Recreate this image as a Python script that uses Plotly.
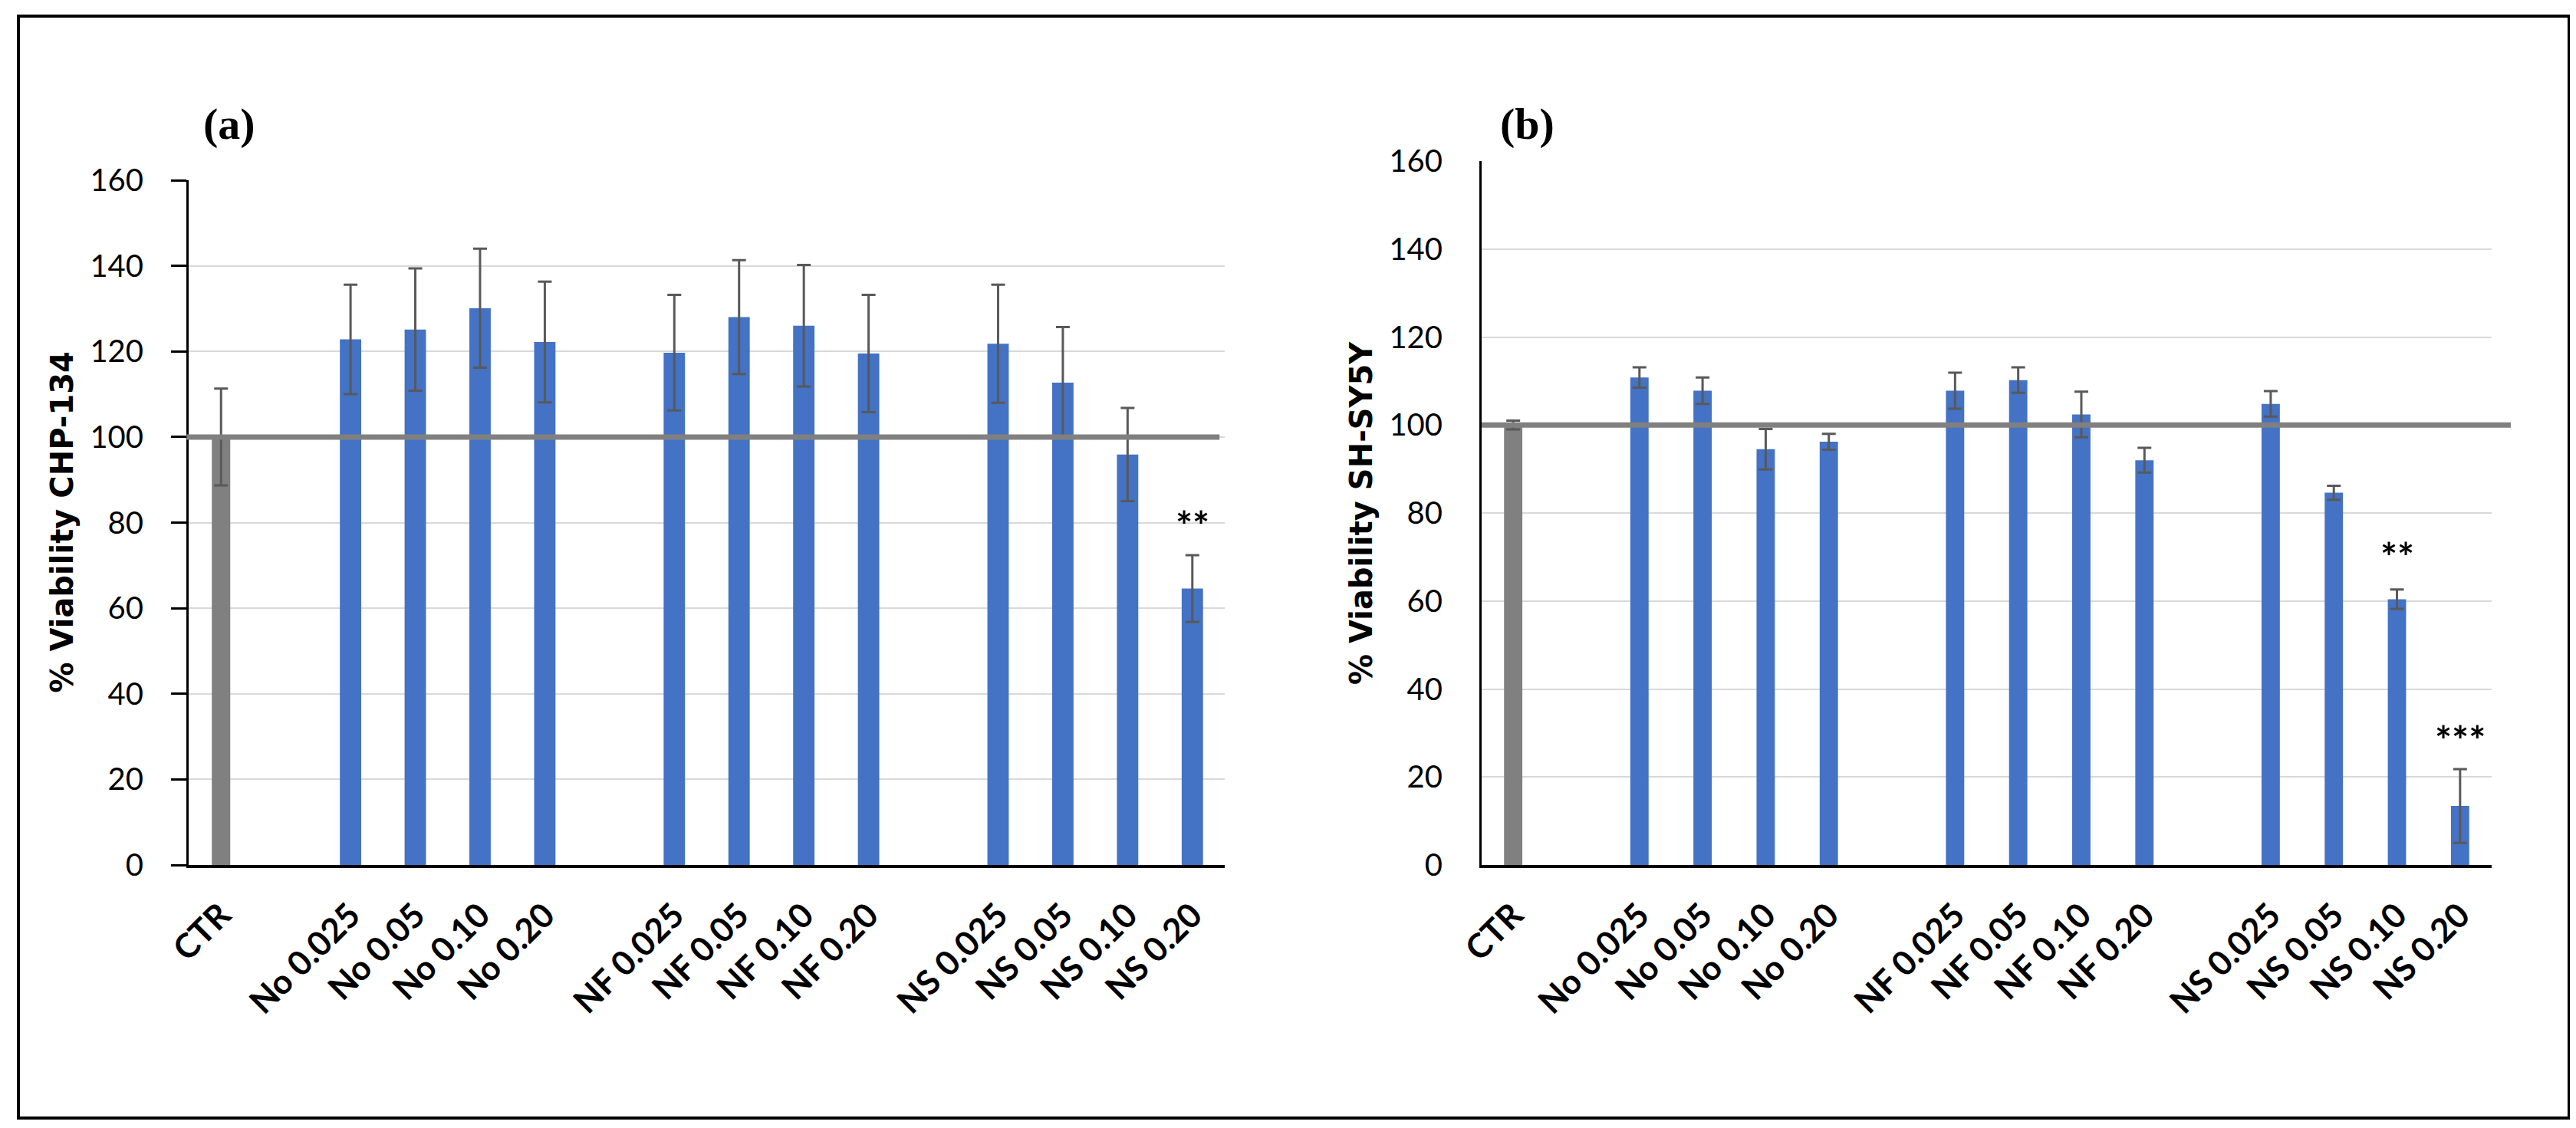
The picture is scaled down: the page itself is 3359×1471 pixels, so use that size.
import plotly.graph_objects as go

# ---------------- data ----------------
groups = ["No", "NF", "NS"]
concs = ["0.025", "0.05", "0.10", "0.20"]
categories = ["CTR"] + [f"{g} {c}" for g in groups for c in concs]

a_vals = [100.0, 122.8, 125.1, 130.1, 122.2, 119.7, 128.0, 126.0, 119.5, 121.8, 112.7, 95.9, 64.6]
a_err = [11.3, 12.8, 14.3, 13.9, 14.1, 13.5, 13.3, 14.2, 13.7, 13.8, 13.0, 10.9, 7.8]

b_vals = [100.0, 110.8, 107.8, 94.5, 96.2, 107.8, 110.2, 102.4, 92.0, 104.8, 84.6, 60.4, 13.4]
b_err = [1.0, 2.3, 3.0, 4.6, 1.8, 4.1, 2.9, 5.2, 2.8, 2.9, 1.6, 2.2, 8.4]

a_stars = {"NS 0.20": (79.0, "**")}
b_stars = {"NS 0.10": (69.7, "**"), "NS 0.20": (28.0, "***")}

y_ticks = [0, 20, 40, 60, 80, 100, 120, 140, 160]
reference_level = 100

# ---------------- layout helpers ----------------
# slots: CTR, gap, 4 x No, gap, 4 x NF, gap, 4 x NS
positions = [0] + [2 + 5 * gi + ci for gi in range(len(groups)) for ci in range(len(concs))]
n_slots = 16

BLUE = "#4472C4"
GREY = "#808080"
ERR = "#595959"
colors = [GREY] + [BLUE] * (len(categories) - 1)

W, H = 3359, 1471


def px_x(p):
    return p / W


def px_y(p):
    return (H - p) / H


fig = go.Figure()
fig.add_trace(go.Bar(
    x=positions, y=a_vals, xaxis="x", yaxis="y",
    marker=dict(color=colors, line=dict(width=0)),
    width=[0.285] + [0.33] * (len(categories) - 1),
    error_y=dict(type="data", array=a_err, visible=True, color=ERR, thickness=3, width=9),
    hoverinfo="skip",
))
fig.add_trace(go.Bar(
    x=positions, y=b_vals, xaxis="x2", yaxis="y2",
    marker=dict(color=colors, line=dict(width=0)),
    width=[0.29] * len(categories),
    error_y=dict(type="data", array=b_err, visible=True, color=ERR, thickness=3, width=9),
    hoverinfo="skip",
))

a_xdom = [px_x(238), px_x(1589)]
b_xdom = [px_x(1924), px_x(3241)]
a_ydom = [px_y(1120), px_y(227)]
b_ydom = [px_y(1120), px_y(202)]

xcommon = dict(
    range=[-0.5, n_slots - 0.5], tickvals=positions, ticktext=categories,
    tickangle=-45, tickfont=dict(family="Lato", size=44, color="black", weight="bold"),
    ticklabelstandoff=18,
    showline=True, linecolor="black", linewidth=4, ticks="", showgrid=False,
    zeroline=False, fixedrange=True, automargin=False,
)
ycommon = dict(
    range=[0, 160], tickvals=y_ticks, showgrid=True, gridcolor="#d9d9d9", gridwidth=2,
    showline=True, linecolor="black", linewidth=3, zeroline=False,
    tickfont=dict(family="Lato", size=40, color="black"), fixedrange=True, automargin=False,
)

fig.update_layout(
    width=W, height=H, margin=dict(l=0, r=0, t=0, b=0, pad=0, autoexpand=False),
    paper_bgcolor="white", plot_bgcolor="white", showlegend=False,
    xaxis=dict(domain=a_xdom, anchor="y", **xcommon),
    yaxis=dict(domain=a_ydom, anchor="x", ticks="outside", ticklen=20, tickwidth=3,
               tickcolor="black", ticklabelstandoff=28, **ycommon),
    xaxis2=dict(domain=b_xdom, anchor="y2", **xcommon),
    yaxis2=dict(domain=b_ydom, anchor="x2", ticks="", ticklabelstandoff=40, **ycommon),
)

shapes = [
    dict(type="line", xref="x domain", yref="y", x0=-0.002, x1=0.995,
         y0=reference_level, y1=reference_level, line=dict(color=GREY, width=7), layer="above"),
    dict(type="line", xref="x2 domain", yref="y2", x0=0.0, x1=1.019,
         y0=reference_level, y1=reference_level, line=dict(color=GREY, width=7), layer="above"),
    dict(type="rect", xref="paper", yref="paper", x0=px_x(16), x1=px_x(3342),
         y0=px_y(1450), y1=px_y(13), line=dict(color="black", width=4)),
]
fig.update_layout(shapes=shapes)

ann = []
for txt, xp in (("(a)", 291), ("(b)", 1984)):
    ann.append(dict(text=f"<b>{txt}</b>", xref="paper", yref="paper", x=px_x(xp), y=px_y(153),
                    xanchor="center", yanchor="middle", showarrow=False,
                    font=dict(family="Liberation Serif", size=58, color="black")))
ann.append(dict(text="<b>% Viability CHP-134</b>", xref="paper", yref="paper", x=px_x(72),
                y=sum(a_ydom) / 2, xanchor="center", yanchor="middle", textangle=-90,
                showarrow=False, font=dict(family="DejaVu Sans", size=40, color="black")))
ann.append(dict(text="<b>% Viability SH-SY5Y</b>", xref="paper", yref="paper", x=px_x(1767),
                y=sum(b_ydom) / 2, xanchor="center", yanchor="middle", textangle=-90,
                showarrow=False, font=dict(family="DejaVu Sans", size=40, color="black")))

for axes, stars in ((("x", "y"), a_stars), (("x2", "y2"), b_stars)):
    for cat, (yv, txt) in stars.items():
        ann.append(dict(text=f"<b>{txt}</b>", xref=axes[0], yref=axes[1],
                        x=positions[categories.index(cat)], y=yv, xanchor="center",
                        yanchor="middle", showarrow=False, yshift=2,
                        font=dict(family="Lato", size=52, color="black")))
fig.update_layout(annotations=ann)

fig.write_html("out.html")
